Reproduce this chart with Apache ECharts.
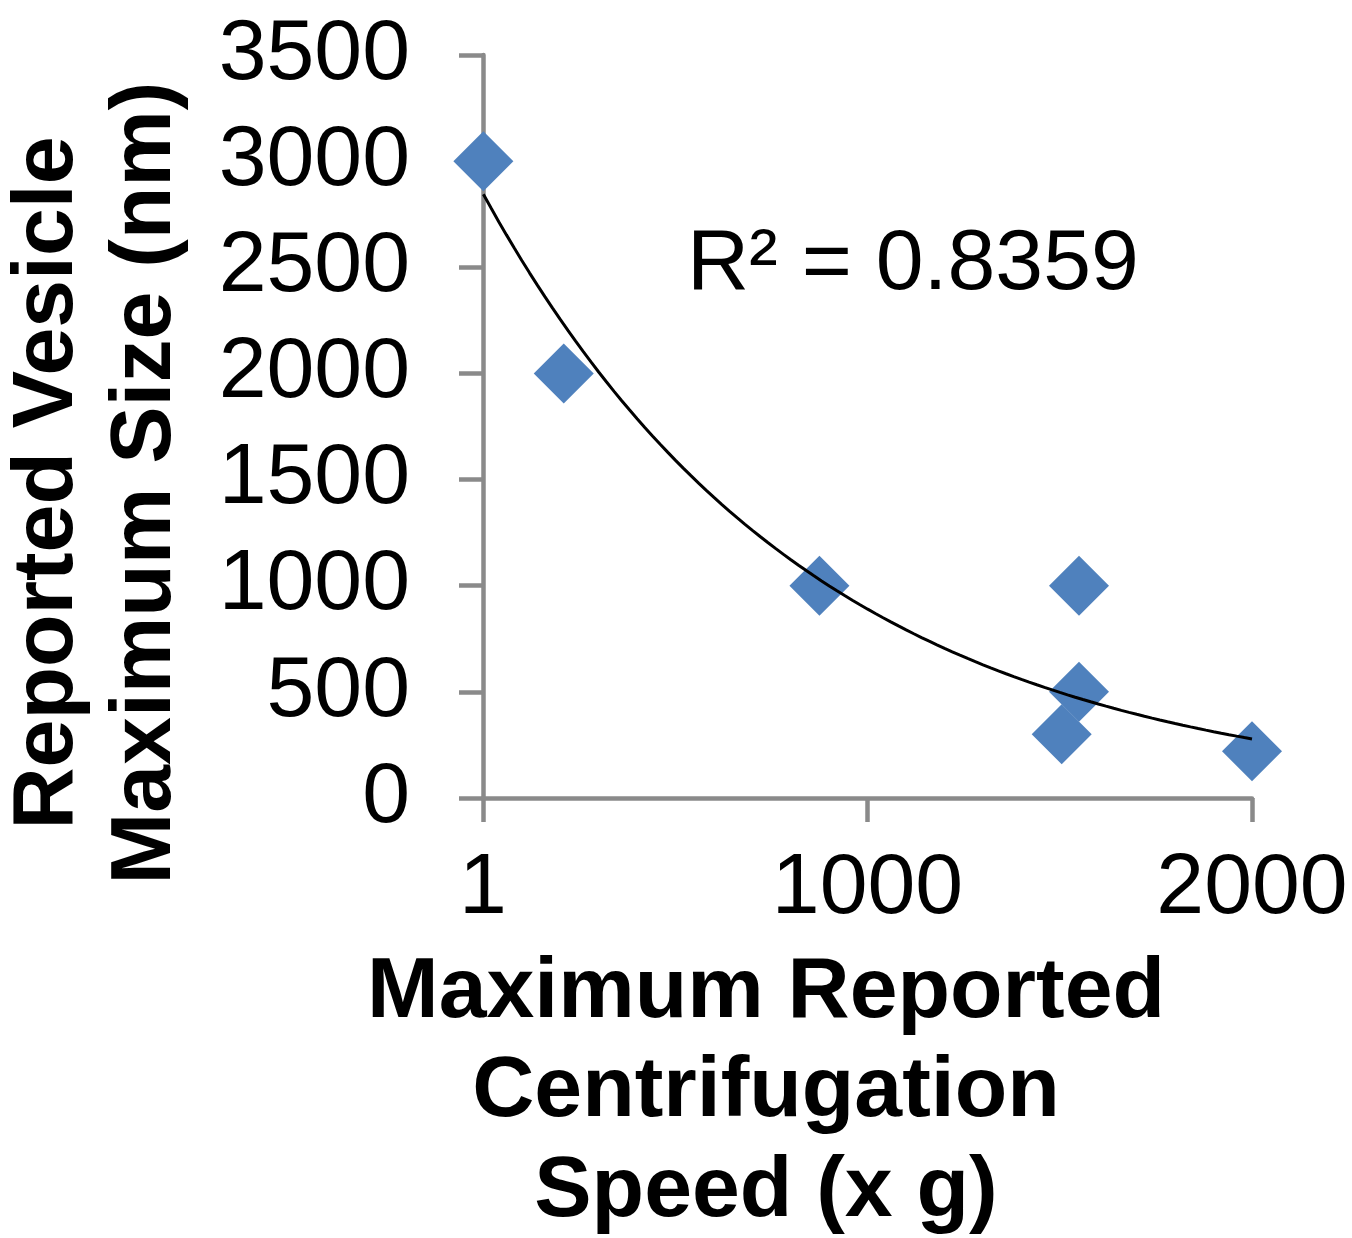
<!DOCTYPE html>
<html>
<head>
<meta charset="utf-8" />
<script src="https://cdn.jsdelivr.net/npm/echarts@6/dist/echarts.min.js"></script>
<style>
  html, body { margin: 0; padding: 0; background: #fff; }
  #chart { width: 1352px; height: 1238px; }
</style>
</head>
<body>
<div id="chart"></div>
<script>
// centrifugation speed (x g) vs reported max vesicle size (nm)
const speeds = [1, 210, 875, 1550, 1550, 1505, 2000]
const sizes = [3000, 2000, 1000, 1000, 500, 300, 220]
const xTicks = { min: 0, max: 2000, interval: 1000 }
const yTicks = { min: 0, max: 3500, interval: 500 }
const r2Label = 'R² = 0.8359'
const xTitle = ['Maximum Reported', 'Centrifugation', 'Speed (x g)']
const yTitle = ['Reported Vesicle', 'Maximum Size (nm)']

const FONT = "'Liberation Sans', Arial, sans-serif"
const axisGray = '#8a8a8a'

// exponential trendline, least squares on ln(y) like excel does
function expFit(xs, ys) {
  const n = xs.length
  const ly = ys.map(v => Math.log(v))
  const mx = xs.reduce((a, b) => a + b, 0) / n
  const my = ly.reduce((a, b) => a + b, 0) / n
  let sxy = 0, sxx = 0
  for (let i = 0; i < n; i++) {
    sxy += (xs[i] - mx) * (ly[i] - my)
    sxx += (xs[i] - mx) * (xs[i] - mx)
  }
  const b = sxy / sxx
  const a = Math.exp(my - b * mx)
  return x => a * Math.exp(b * x)
}
const fit = expFit(speeds, sizes)
const x0 = Math.min(...speeds), x1 = Math.max(...speeds)
const trend = []
for (let i = 0; i <= 100; i++) {
  const x = x0 + (x1 - x0) * i / 100
  trend.push([x, fit(x)])
}

const textEl = (text, x, y, opts = {}) => ({
  type: 'text',
  x, y,
  rotation: opts.rotation || 0,
  style: {
    text,
    font: (opts.bold ? 'bold ' : '') + '86px ' + FONT,
    fill: '#000',
    textAlign: opts.align || 'center',
    align: opts.align || 'center',
    textVerticalAlign: 'middle',
    verticalAlign: 'middle',
  },
})

const chart = echarts.init(document.getElementById('chart'))
chart.setOption({
  animation: false,
  backgroundColor: '#fff',
  grid: { left: 483, right: 100, top: 55, bottom: 440, outerBoundsMode: 'none' },
  xAxis: {
    type: 'value',
    ...xTicks,
    axisLine: { show: true, onZero: false, lineStyle: { color: axisGray, width: 4.5 } },
    axisTick: { show: true, length: 24, lineStyle: { color: axisGray, width: 4.5 } },
    axisLabel: {
      color: '#000',
      fontFamily: FONT,
      fontSize: 86,
      margin: 48,
      formatter: v => (v === 0 ? '1' : String(v)),
    },
    splitLine: { show: false },
  },
  yAxis: {
    type: 'value',
    ...yTicks,
    axisLine: { show: true, onZero: false, lineStyle: { color: axisGray, width: 4.5 } },
    axisTick: { show: true, length: 24, lineStyle: { color: axisGray, width: 4.5 } },
    axisLabel: { color: '#000', fontFamily: FONT, fontSize: 86, margin: 73, formatter: v => String(v) },
    splitLine: { show: false },
  },
  series: [
    {
      type: 'scatter',
      data: speeds.map((s, i) => [s, sizes[i]]),
      symbol: 'diamond',
      symbolSize: 60,
      itemStyle: { color: '#4f81bd', opacity: 1 },
      z: 2,
    },
    {
      type: 'line',
      data: trend,
      showSymbol: false,
      lineStyle: { color: '#000', width: 3 },
      z: 3,
    },
  ],
  graphic: [
    textEl(r2Label, 687, 265, { align: 'left' }),
    ...xTitle.map((t, i) => textEl(t, 766, 993 + i * 99.5, { bold: true })),
    ...yTitle.map((t, i) => textEl(t, 48 + i * 98, 483, { bold: true, rotation: Math.PI / 2 })),
  ],
})
</script>
</body>
</html>
